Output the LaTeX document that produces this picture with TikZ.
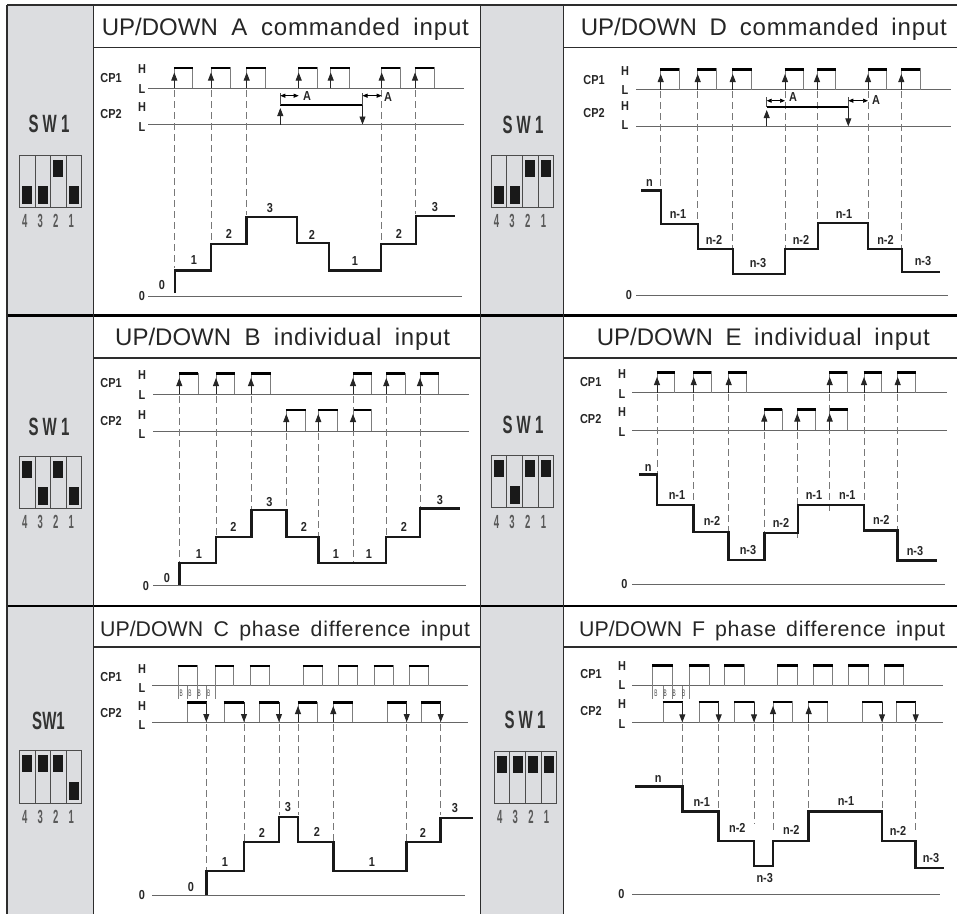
\documentclass[tikz,border=0pt]{standalone}
\usepackage{fontspec}
\usepackage{graphicx}
\setmainfont{Liberation Sans}
\newfontfamily\lsfont[LetterSpace=3.5]{Liberation Sans}
\usetikzlibrary{arrows.meta}
\definecolor{cellgray}{RGB}{220,221,224}
\definecolor{rulecol}{RGB}{45,45,45}
\definecolor{sidecol}{RGB}{125,125,125}
\definecolor{dashcol}{RGB}{120,120,120}
\newcounter{nid}
\newcommand\Lw[1]{{\lsfont #1}}
\tikzset{
  lbl/.style={inner sep=0pt,text height=9pt,text depth=0pt,anchor=center,font=\fontsize{13}{14}\bfseries,text=black!85},
  ttl/.style={inner sep=0pt,anchor=base west,font=\fontsize{24}{26}\selectfont,text=black!85},
  ttlb/.style={inner sep=0pt,anchor=base west,font=\fontsize{21.3}{24}\selectfont,text=black!85},
  swt/.style={inner sep=0pt,anchor=center,font=\fontsize{25}{26}\bfseries,text=black!80},
  swn/.style={inner sep=0pt,anchor=center,font=\fontsize{19}{20}\bfseries,text=black!65},
  bmk/.style={inner sep=0pt,anchor=center,font=\fontsize{9.5}{10}\selectfont,text=black!70},
  axisl/.style={draw=black!60,line width=.9pt},
  side/.style={draw=sidecol,line width=.9pt},
  topbar/.style={draw=black,line width=2.7pt},
  dsh/.style={draw=dashcol,line width=.9pt,dash pattern=on 6.5pt off 4.5pt},
  stairl/.style={draw=black!90,line width=2.9pt,line join=miter},
  evup/.style={draw=black!85,line width=.9pt,-{Triangle[length=8pt,width=6pt]}},
  dbl/.style={draw=black,line width=.7pt,{Triangle[length=5pt,width=4pt]}-{Triangle[length=5pt,width=4pt]}},
  tick/.style={draw=black!70,line width=.6pt},
  swbox/.style={draw=black!70,line width=.9pt},
  knob/.style={fill=black!90,draw=none},
}
\newcommand\Lb[3]{\stepcounter{nid}\node[lbl] (t\arabic{nid}) at (#1,#2) {\scalebox{.84}[1]{#3}};}
\newcommand\Lbs[1]{\foreach \X/\Y/\T in {#1}{\Lb{\X}{\Y}{\T}}}
\newcommand\Pulses[3]{\foreach \A/\B in {#3}{
  \draw[side] (\A,#2) -- (\A,#1) (\B,#1) -- (\B,#2);
  \draw[topbar] (\A-.4,#1+.9) -- (\B+.4,#1+.9);}}
\newcommand\Ups[3]{\foreach \A in {#3}{\draw[evup] (\A,#2) -- (\A,#1);}}
\newcommand\Dns[3]{\foreach \A in {#3}{\draw[evup] (\A,#1) -- (\A,#2);}}
\newcommand\Dashes[2]{\foreach \A/\B in {#2}{\draw[dsh] (\A,#1) -- (\A,\B);}}
\newcommand\Title[5][ttl]{\stepcounter{nid}\node[#1] (t\arabic{nid}) at (#2,#4) {\makebox[#3pt][s]{#5}};}
\newcommand\SwT[3]{\stepcounter{nid}\node[swt] (t\arabic{nid}) at (#1,#2) {\scalebox{.6}[1]{#3}};}
\newcommand\Sw[5]{%
  \draw[swbox] (#1,#3) rectangle (#2,#4);
  \foreach \D in {1,2,3}{\draw[swbox] ({#1+(#2-#1)*\D/4},#3) -- ({#1+(#2-#1)*\D/4},#4);}
  \foreach \I/\S in {#5}{
    \pgfmathsetmacro\cx{#1+(#2-#1)*(\I-.5)/4}
    \ifnum\S=1 \fill[knob] (\cx-5,#3+4.5) rectangle (\cx+5,#3+21.5);
    \else \fill[knob] (\cx-5,#4-21.5) rectangle (\cx+5,#4-3.5);\fi}
  \foreach \I/\N in {1/4,2/3,3/2,4/1}{
    \pgfmathsetmacro\cx{#1+(#2-#1)*(\I-.5)/4-2.4}
    \stepcounter{nid}\node[swn] (t\arabic{nid}) at (\cx,#4+14) {\scalebox{.5}[1]{\N}};}
}
\newcommand\Bm[2]{\foreach \A in {#2}{\stepcounter{nid}\node[bmk] (t\arabic{nid}) at (\A,#1) {\scalebox{.5}[1]{B}};}}
\begin{document}
\begin{tikzpicture}[x=1pt,y=-1pt]
\useasboundingbox (0,0) rectangle (957,914);
\fill[white] (0,0) rectangle (957,914);
\fill[cellgray] (7,5) rectangle (93,914);
\fill[cellgray] (480,5) rectangle (563,914);
\draw[rulecol,line width=1.4pt] (7,5) -- (957,5);
\draw[rulecol,line width=1.2pt] (93,47.5) -- (480,47.5) (563,47.5) -- (957,47.5);
\draw[rulecol,line width=1.2pt] (93,358) -- (480,358) (563,358) -- (957,358);
\draw[rulecol,line width=1.2pt] (93,647) -- (480,647) (563,647) -- (957,647);
\draw[black,line width=2.4pt] (7,315.5) -- (957,315.5) (7,606) -- (957,606);
\draw[rulecol,line width=1.6pt] (7,5) -- (7,914) (93.5,5) -- (93.5,914) (480.5,5) -- (480.5,914) (563.5,5) -- (563.5,914);
% ---------- titles
\Title{101.7}{367}{35}{UP/DOWN A \Lw{commanded} \Lw{input}}
\Title{580.7}{366}{35}{UP/DOWN D \Lw{commanded} \Lw{input}}
\Title{115}{335}{345}{UP/DOWN B \Lw{individual} \Lw{input}}
\Title{596.7}{333}{345}{UP/DOWN E \Lw{individual} \Lw{input}}
\Title[ttlb]{100}{370}{636}{UP/DOWN C \Lw{phase} \Lw{difference} \Lw{input}}
\Title[ttlb]{579}{366}{636}{UP/DOWN F \Lw{phase} \Lw{difference} \Lw{input}}
% ---------- switches
\SwT{49}{124}{S W 1}
\Sw{19.5}{81.5}{155}{207}{1/0,2/0,3/1,4/0}
\SwT{523}{125}{S W 1}
\Sw{491}{553.7}{155}{207}{1/0,2/0,3/1,4/1}
\SwT{49}{426.7}{S W 1}
\Sw{19.5}{81.5}{456}{508.3}{1/1,2/0,3/1,4/0}
\SwT{523}{425}{S W 1}
\Sw{491}{553.7}{455.3}{507.7}{1/1,2/0,3/1,4/1}
\SwT{48.5}{720.7}{SW1}
\Sw{19.5}{81.5}{750.7}{803}{1/1,2/1,3/1,4/0}
\SwT{525}{720}{S W 1}
\Sw{494.3}{556.7}{751}{803.3}{1/1,2/1,3/1,4/1}
% ---------- Panel A
\Lbs{111/78/CP1,142/69/H,142/89/L,111/114/CP2,142/107/H,142/127/L,142/296/0}
\draw[axisl] (148,88) -- (464,88) (148,124.5) -- (464,124.5) (148,296) -- (462,296);
\Pulses{67}{88}{174.3/192.7,211/230,246.7/265.7,298.7/317,330.7/349.7,381.7/400,415/434}
\Dashes{90}{174.3/268,211/242,246.7/215,381.7/242,415/214}
\Ups{72.5}{88}{174.3,211,246.7,298.7,330.7,381.7,415}
\draw[topbar] (280,105) -- (362.3,105);
\Ups{108}{124.5}{280.3}
\Dns{105}{124.5}{362.5}
\draw[tick] (280.3,93) -- (280.3,105) (362.5,93) -- (362.5,105);
\draw[dbl] (280.3,95.7) -- (298.7,95.7);
\draw[dbl] (362.5,95.7) -- (381.7,95.7);
\Lbs{307/96/A,388/97/A,162/285/0,194/260/1,229/234/2,270/208/3,312/235/2,355/261/1,399/234/2,435/207/3}
\draw[stairl] plot coordinates {(175,293)(175,270.5)(211,270.5)(211,244)(246.7,244)(246.7,217)(297,217)(297,243)(329,243)(329,270.5)(381,270.5)(381,244)(416,244)(416,216)(455,216)};
% ---------- Panel D
\Lbs{594/80/CP1,625/71/H,625/90/L,594/113/CP2,625/106/H,625/125/L,629/295/0}
\draw[axisl] (636,89.5) -- (951,89.5) (636,126.3) -- (951,126.3) (636,295.3) -- (948,295.3);
\Pulses{68.3}{89.5}{660.7/679,697.7/716,732.7/751.3,785/803.3,817/835.3,868/886.7,901.3/920}
\Dashes{91}{660.7/190,697.7/222,732.7/248,785/248,817/222,868/222,901.3/248}
\Ups{74}{89.5}{660.7,697.7,732.7,785,817,868,901.3}
\draw[topbar] (766.7,107) -- (848.3,107);
\Ups{110}{126.3}{766.7}
\Dns{107}{126.3}{848.3}
\draw[tick] (766.7,97) -- (766.7,107) (848.3,97) -- (848.3,107);
\draw[dbl] (766.7,100.7) -- (785,100.7);
\draw[dbl] (848.3,100.7) -- (868,100.7);
\Lbs{793/97/A,876/100/A,649.5/182/n,678/213.5/n-1,714/240/n-2,758/263/n-3,801/240/n-2,844/213.5/n-1,885.5/240/n-2,923/260.5/n-3}
\draw[stairl] plot coordinates {(641,190.5)(661,190.5)(661,224)(698,224)(698,249)(733,249)(733,274)(785,274)(785,249)(818,249)(818,223)(868,223)(868,249)(902,249)(902,272)(940,272)};
% ---------- Panel B
\Lbs{111/383/CP1,142/375/H,142/394.5/L,111/420.5/CP2,142/414.5/H,142/433.5/L,146/586/0}
\draw[axisl] (153,394) -- (469,394) (153,431.3) -- (469,431.3) (153,585.7) -- (466,585.7);
\Pulses{372.7}{394}{179.3/198,216/234.3,251/270.3,353/371.7,386.3/405,420/438.7}
\Pulses{409}{431.3}{286.3/305.3,318.3/337.3,353/371}
\Dashes{396}{179.3/562,216/536,251/509,353/562,386.3/536,420/509}
\Dashes{433}{286.3/509,318.3/536}
\Ups{378}{394}{179.3,216,251,353,386.3,420}
\Ups{414}{431.3}{286.3,318.3,353}
\Lbs{167/578/0,199/553.5/1,233.5/527/2,269.5/501.5/3,304/527/2,336/554/1,369/554/1,404/527/2,440/499.5/3}
\draw[stairl] plot coordinates {(179.5,585)(179.5,563)(216,563)(216,537)(251.5,537)(251.5,510)(286.5,510)(286.5,537)(318.5,537)(318.5,563)(386,563)(386,537)(420,537)(420,508.7)(460,508.7)};
% ---------- Panel E
\Lbs{590.7/382/CP1,622/373.5/H,622/393.5/L,590.7/419/CP2,622/412/H,622/431.5/L,624.3/584.3/0}
\draw[axisl] (632,392.7) -- (946.7,392.7) (632,430) -- (946.7,430) (632,584.7) -- (944.7,584.7);
\Pulses{371.3}{392.7}{657/674.3,693.7/711,728.7/746.3,829.7/847,864/881.7,897.7/915.3}
\Pulses{408.7}{430}{764.3/782,797.3/815.3,829.7/847.7}
\Dashes{394}{657/474,693.7/504,728.7/531,829.7/513,864/504,897.7/530}
\Dashes{432}{764.3/532,797.3/540}
\Ups{377}{392.7}{657,693.7,728.7,829.7,864,897.7}
\Ups{413.5}{430}{764.3,797.3,829.7}
\Lbs{648.3/466.7/n,677/495/n-1,712/521/n-2,748/550.3/n-3,781/523/n-2,814/495/n-1,847.3/495/n-1,881.3/520/n-2,915/550.5/n-3}
\draw[stairl] plot coordinates {(639.3,474.3)(657,474.3)(657,505)(693.7,505)(693.7,532)(728.7,532)(728.7,560)(764.3,560)(764.3,533)(798,533)(798,505)(864,505)(864,530.5)(897.7,530.5)(897.7,560.5)(937,560.5)};
% ---------- Panel C
\Lbs{111/677/CP1,142/668.5/H,142/688/L,111/712.7/CP2,142/705.5/H,142/725/L,142/895/0}
\draw[axisl] (152,685.7) -- (468,685.7) (152,722.3) -- (468,722.3) (152,895) -- (465,895);
\Pulses{665}{685.7}{178/197,215/233.3,250.3/269.3,303.3/322.3,338.7/357.7,374/393,409.7/428.7}
\Pulses{701.7}{722.3}{187.7/206.3,224/244,259.7/279,298/317,333.3/352.3,387.7/406.7,421.3/440.7}
\foreach \A in {178,187.7,197,206.3,215}{\draw[tick,draw=black!50] (\A,686) -- (\A,699);}
\Bm{693.7}{181.3,190,199.3,208.7}
\Dashes{724}{206.3/870,244/841,279/815,298/815,333.3/841,406.7/841,440.7/815}
\Dns{702}{722}{206.3,244,279,406.7,440.7}
\Ups{706}{722.3}{298,333.3}
\Lbs{191/887/0,225/862/1,262/833/2,288/807/3,317/832/2,372/862/1,423/833/2,455/808/3}
\draw[stairl] plot coordinates {(206.3,895)(206.3,871)(244,871)(244,842)(279,842)(279,817)(298,817)(298,842)(333.3,842)(333.3,871)(406.7,871)(406.7,842)(440.7,842)(440.7,818)(473,818)};
% ---------- Panel F
\Lbs{591/674/CP1,622/665.5/H,622/685/L,591/711/CP2,622/704/H,622/723.5/L,621.3/894.3/0}
\draw[axisl] (632,685.7) -- (942.7,685.7) (632,722.7) -- (942.7,722.7) (632,894.3) -- (940,894.3);
\Pulses{664.3}{685.7}{652.7/672.3,689.3/709,724.7/744,777.7/797.3,813.3/832.7,848.7/868.3,884.3/903.7}
\Pulses{701}{722.7}{663/682.3,699/718.7,734.3/754,773/792,808.7/827.3,862.7/882,896.7/915.7}
\foreach \A in {652.7,663,672.3,682.3,689.3}{\draw[tick,draw=black!50] (\A,686) -- (\A,699);}
\Bm{693.7}{656,665.3,674.3,683.7}
\Dashes{724}{682.3/786,718.7/811,754/824,773/830,808.7/811,882/811,915.7/833}
\Dns{702}{722.3}{682.3,718.7,754,882,915.7}
\Ups{706}{722.7}{773,808.7}
\Lbs{658.3/777.7/n,701.7/801.7/n-1,737.3/827.7/n-2,764.7/878.3/n-3,791.3/830.3/n-2,846/801/n-1,898/830.7/n-2,931/858/n-3}
\draw[stairl] plot coordinates {(635.3,786.7)(682.3,786.7)(682.3,811.5)(718.7,811.5)(718.7,841)(754,841)(754,866)(773,866)(773,841)(808.7,841)(808.7,811.5)(882,811.5)(882,841)(915.7,841)(915.7,868)(944,868)};
\end{tikzpicture}
\end{document}
